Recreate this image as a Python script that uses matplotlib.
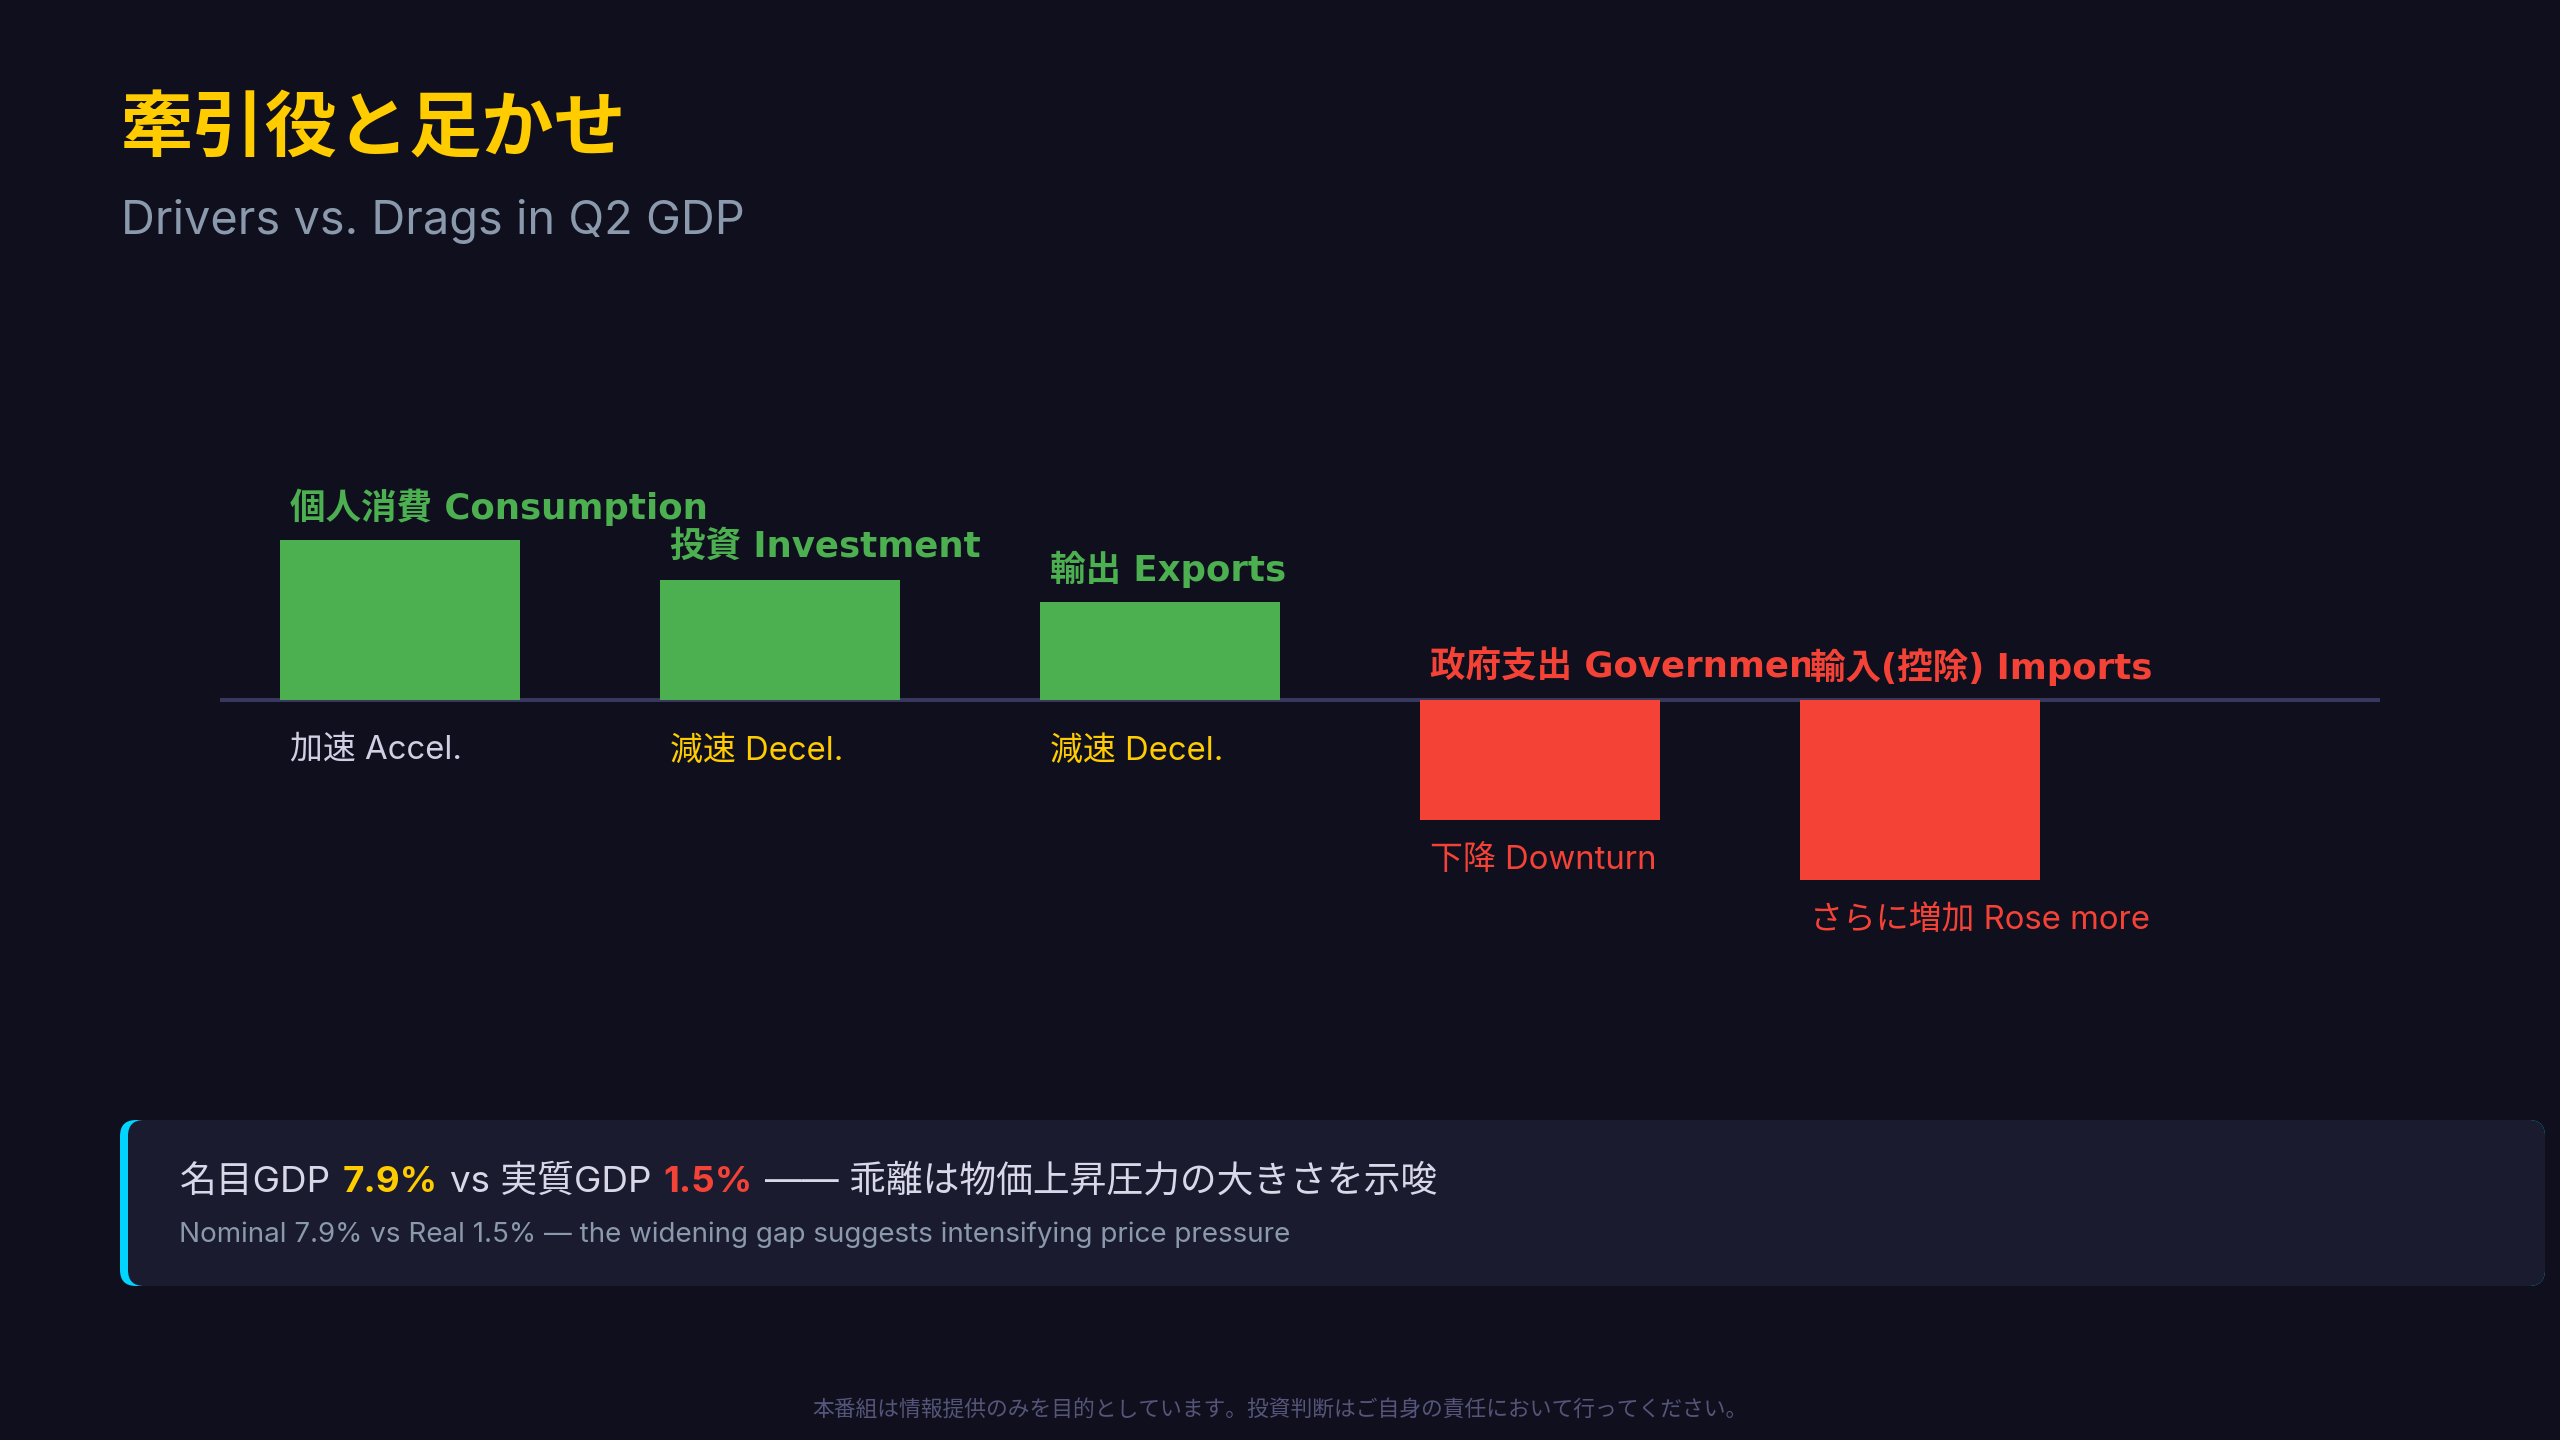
"""
Drivers vs. drags in Q2 GDP - slide-style bar chart (2560x1440).
"""

import matplotlib
matplotlib.use("Agg")
import matplotlib.pyplot as plt
from matplotlib.patches import FancyBboxPatch
from matplotlib.transforms import Bbox, TransformedBbox

plt.rcParams["font.family"] = ["Inter", "Noto Sans CJK JP", "DejaVu Sans"]
BOLD_FAMILY = ["DejaVu Sans", "Noto Sans CJK JP"]   # wider latin for bar names

# =============================================================================
# DATA
# =============================================================================

COMPONENTS = ["個人消費 Consumption", "投資 Investment", "輸出 Exports",
              "政府支出 Government", "輸入(控除) Imports"]
CONTRIB = [0.8, 0.6, 0.49, -0.6, -0.9]
TRENDS = ["加速 Accel.", "減速 Decel.", "減速 Decel.", "下降 Downturn",
          "さらに増加 Rose more"]

TITLE = "牽引役と足かせ"
SUBTITLE = "Drivers vs. Drags in Q2 GDP"
NOMINAL = "7.9%"
REAL = "1.5%"
CALLOUT_JP = ["名目GDP", NOMINAL, "vs 実質GDP", REAL, "—— 乖離は物価上昇圧力の大きさを示唆"]
CALLOUT_EN = "Nominal 7.9% vs Real 1.5% — the widening gap suggests intensifying price pressure"
FOOTER = "本番組は情報提供のみを目的としています。投資判断はご自身の責任において行ってください。"

# =============================================================================
# STYLE
# =============================================================================

BG = "#0f0f1e"
BOX = "#1b1b2f"
CYAN = "#00d4ff"
YELLOW = "#ffcc00"
GREEN = "#4caf50"
RED = "#f44336"
LIGHT = "#d8d8e8"
GREY = "#8a99ab"
AXIS = "#38385e"
FOOT = "#55557a"

TREND_COLOR = {"Accel.": "#d0d0e4", "Decel.": YELLOW}

W, H = 2560, 1440
SLOT_PX = 380      # pixel distance between bar centres


def main():
    fig = plt.figure(figsize=(W / 100, H / 100), dpi=100, facecolor=BG)

    # ── full-canvas overlay in pixel units for titles / callout ──────────────
    ov = fig.add_axes([0, 0, 1, 1])
    ov.set_xlim(0, W)
    ov.set_ylim(H, 0)
    ov.axis("off")

    ov.text(121, 133, TITLE, fontsize=52, fontweight="bold", color=YELLOW,
            va="center", ha="left")
    ov.text(121, 222, SUBTITLE, fontsize=33.8, color=GREY, va="center", ha="left")

    # callout box with cyan left accent
    ov.add_patch(FancyBboxPatch((120, 1120), 2425, 166,
                                boxstyle="round,pad=0,rounding_size=16",
                                fc=CYAN, ec="none", zorder=1))
    ov.add_patch(FancyBboxPatch((128, 1120), 2417, 166,
                                boxstyle="round,pad=0,rounding_size=16",
                                fc=BOX, ec="none", zorder=2))

    seg_colors = [LIGHT, YELLOW, LIGHT, RED, LIGHT]
    seg_weights = ["normal", "bold", "normal", "bold", "normal"]
    prev = ov.text(180, 1182, CALLOUT_JP[0], fontsize=26.5, color=seg_colors[0],
                   va="center", ha="left", zorder=3)
    for s, c, fw in zip(CALLOUT_JP[1:], seg_colors[1:], seg_weights[1:]):
        prev = ov.annotate(s, xy=(1, 0), xycoords=prev, xytext=(12, 0),
                           textcoords="offset pixels", fontsize=26.5, color=c,
                           fontweight=fw, va="bottom", ha="left", zorder=3)
    ov.text(179, 1235, CALLOUT_EN, fontsize=20, color=GREY, va="center",
            ha="left", zorder=3)

    ov.text(1280, 1409, FOOTER, fontsize=15.7, color=FOOT, va="center", ha="center")

    # ── bar chart ────────────────────────────────────────────────────────────
    ax = fig.add_axes([220 / W, 1 - 960 / H, 2160 / W, 520 / H])
    ax.patch.set_visible(False)
    ax.axis("off")

    width = 0.632
    x = list(range(len(CONTRIB)))
    colors = [GREEN if v > 0 else RED for v in CONTRIB]
    ax.bar(x, CONTRIB, width=width, color=colors, zorder=2)
    ax.axhline(0, color=AXIS, lw=2.9, zorder=1)
    ax.set_xlim(-0.474, 5.21)
    ax.set_ylim(-1.3, 1.3)

    labels = []
    for i, (name, v, trend) in enumerate(zip(COMPONENTS, CONTRIB, TRENDS)):
        left = i - width / 2
        col = colors[i]
        lab = ax.annotate(name, xy=(left, max(v, 0)), xytext=(10, 33),
                          textcoords="offset pixels", fontsize=25.6,
                          fontweight="bold", family=BOLD_FAMILY, color=col,
                          va="center", ha="left", zorder=3 + i)
        labels.append(lab)
        if v > 0:
            tcol = TREND_COLOR[trend.split()[-1]]
            dy = -51
        else:
            tcol = RED
            dy = -41
        ax.annotate(trend, xy=(left, min(v, 0)), xytext=(10, dy),
                    textcoords="offset pixels", fontsize=23.7, color=tcol,
                    va="center", ha="left")

    # a label sitting on the same row as the next one is cut where that starts
    for a, b in zip(labels[:-1], labels[1:]):
        if a.xy[1] != b.xy[1]:
            continue
        nxt_left = b.xy[0] + 10 / SLOT_PX
        a.set_clip_box(TransformedBbox(Bbox([[-10, -10], [nxt_left, 10]]),
                                       ax.transData))
        a.set_clip_on(True)

    fig.savefig("out.png", dpi=100, facecolor=BG)
    plt.close(fig)


if __name__ == "__main__":
    main()
